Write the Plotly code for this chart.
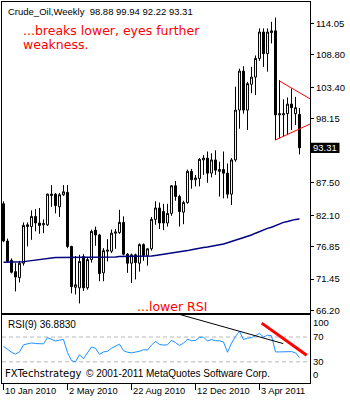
import pandas as pd
import plotly.graph_objects as go

# ---------------- data ----------------
weeks = pd.date_range("2010-01-10", periods=75, freq="7D")

opens = [84.0, 77.8, 74.6, 72.7, 71.7, 74.1, 80.2, 80.2, 81.9, 80.8,
         80.5, 80.5, 85.6, 85.6, 83.5, 85.5, 85.9, 76.9, 70.1, 70.0,
         75.2, 70.0, 74.7, 79.6, 78.8, 72.5, 76.1, 76.1, 79.1, 79.2,
         80.9, 75.6, 74.1, 75.5, 74.1, 77.2, 75.4, 76.5, 81.4, 83.3,
         82.7, 80.8, 82.4, 87.0, 85.2, 82.6, 84.2, 89.4, 88.0, 88.2,
         91.3, 91.6, 89.1, 91.3, 89.4, 89.7, 89.1, 85.6, 91.3, 99.6,
         106.1, 99.6, 103.9, 105.1, 108.2, 112.6, 109.0, 112.5, 112.8, 98.8,
         98.8, 99.0, 100.6, 99.0, 98.88]
highs = [84.4, 78.2, 74.9, 74.1, 74.5, 80.9, 80.9, 82.9, 83.1, 83.3,
         81.4, 85.7, 87.1, 85.8, 85.8, 87.1, 87.1, 77.0, 75.3, 75.5,
         75.6, 75.0, 79.7, 80.2, 79.0, 76.6, 78.1, 79.7, 79.8, 83.0,
         81.9, 75.8, 75.7, 75.7, 77.4, 77.4, 76.6, 81.8, 84.4, 84.2,
         84.0, 84.0, 87.1, 87.8, 85.5, 84.5, 89.7, 89.8, 88.8, 91.6,
         92.1, 92.7, 92.4, 92.9, 91.0, 92.7, 90.7, 91.6, 103.5, 106.5,
         106.9, 104.3, 106.8, 108.7, 113.2, 113.2, 113.2, 114.3, 115.0, 104.6,
         101.4, 101.7, 103.2, 101.8, 99.94]
lows = [77.6, 74.2, 72.4, 69.4, 70.9, 73.7, 76.9, 78.0, 79.4, 79.0,
        79.1, 80.3, 83.5, 82.4, 81.8, 85.3, 76.6, 69.1, 68.9, 67.4,
        69.5, 69.7, 74.2, 77.0, 71.1, 71.1, 74.4, 75.8, 76.5, 79.0,
        75.4, 72.5, 70.8, 71.4, 72.7, 74.5, 73.7, 76.2, 80.5, 79.8,
        79.6, 80.2, 82.0, 84.5, 80.2, 80.6, 84.0, 86.5, 86.9, 86.9,
        88.8, 87.5, 88.4, 88.8, 85.2, 84.9, 84.9, 83.8, 91.0, 96.5,
        99.0, 96.3, 102.4, 102.1, 107.8, 106.8, 106.0, 110.7, 94.6, 94.9,
        95.2, 95.5, 96.3, 97.1, 92.22]
closes = [77.8, 74.4, 72.6, 71.8, 74.1, 80.4, 80.5, 81.9, 80.8, 80.4,
          80.7, 85.6, 85.4, 83.7, 85.5, 86.0, 76.9, 70.2, 70.5, 74.4,
          70.0, 74.7, 79.4, 78.8, 72.4, 76.2, 76.3, 79.1, 79.3, 80.9,
          75.6, 74.1, 75.5, 74.2, 77.2, 75.4, 76.5, 81.4, 83.3, 80.8,
          80.8, 82.4, 87.0, 85.2, 82.7, 84.2, 89.4, 88.0, 88.3, 91.4,
          91.6, 89.1, 91.3, 89.6, 89.7, 89.1, 85.6, 91.3, 99.6, 106.1,
          99.6, 104.0, 105.1, 108.2, 112.6, 109.0, 112.6, 112.8, 98.8, 99.0,
          99.0, 100.6, 100.0, 100.0, 93.31]
ma = [74.25, 74.25, 74.27, 74.3, 74.3, 74.35, 74.45, 74.55, 74.6, 74.7,
      74.8, 74.9, 75.0, 75.05, 75.05, 75.05, 75.05, 75.05, 75.05, 75.05,
      75.05, 75.05, 75.05, 75.05, 75.05, 75.1, 75.1, 75.15, 75.15, 75.2,
      75.2, 75.2, 75.2, 75.2, 75.2, 75.2, 75.25, 75.3, 75.4, 75.5,
      75.6, 75.7, 75.8, 75.85, 75.9, 76.0, 76.2, 76.35, 76.5, 76.6,
      76.7, 76.8, 76.9, 77.0, 77.1, 77.3, 77.5, 77.7, 77.9, 78.1,
      78.3, 78.6, 78.8, 79.1, 79.4, 79.7, 79.9, 80.1, 80.4, 80.7,
      80.9, 81.05, 81.25, 81.4, 81.45]
rsi = [55, 50, 45.5, 42.5, 46, 57.5, 59, 60.5, 59.5, 59.5,
       59, 69, 66, 63.5, 65, 66, 45, 32, 30, 41.5,
       35, 44, 54, 52, 42, 46, 47, 52, 55, 58.5,
       48, 45.5, 44.5, 45.5, 47, 49.5, 49, 57, 63, 58,
       57, 57.5, 64.5, 61, 56.5, 60, 66.5, 64, 64.5, 69.5,
       70, 63.5, 66, 64, 64, 62, 45.5, 60, 71, 79,
       66, 68, 69, 72, 76, 70, 73, 72, 46, 46,
       46.5, 47, 46.5, 44.5, 36.88]

price_ticks = [114.05, 108.80, 103.40, 98.15, 87.50, 82.10, 76.85, 71.45, 66.20]
date_ticks = ["2010-01-10", "2010-05-02", "2010-08-22", "2010-12-12", "2011-04-03"]
date_labels = ["10 Jan 2010", "2 May 2010", "22 Aug 2010", "12 Dec 2010", "3 Apr 2011"]
rsi_levels = [70, 30]
rsi_tick_text = ["100", "70", "30", "0"]
last_price = 93.31
rsi_last = 36.8830
header = "Crude_Oil,Weekly\u00a0\u00a098.88 99.94 92.22 93.31"

# hand-drawn lines: (week offset from first bar, value)
upper_tri = [(68.95, 104.47), (76.625, 101.47)]
lower_tri = [(67.95, 94.62), (76.625, 97.27)]
rsi_black = [(42.05, 110.0), (69.95, 59.4)]
rsi_red = [(64.55, 92.4), (75.8, 40.7)]

# ---------------- layout helpers ----------------
W, H = 350, 400
ML, MR, MT, MB = 2, 40, 2, 17
PW, PH = W - ML - MR, H - MT - MB


def wk(b):
    return weeks[0] + pd.Timedelta(days=7 * b)


def py(pix):
    return (H - MB - pix) / PH


def px(pix):
    return (pix - ML) / PW


FONT = "Liberation Sans"

fig = go.Figure()
fig.add_trace(go.Candlestick(
    x=weeks, open=opens, high=highs, low=lows, close=closes,
    increasing=dict(line=dict(color="black", width=1), fillcolor="white"),
    decreasing=dict(line=dict(color="black", width=1), fillcolor="black"),
    whiskerwidth=0, xaxis="x", yaxis="y", showlegend=False,
))
fig.add_trace(go.Scatter(x=weeks, y=ma, mode="lines",
                         line=dict(color="#000080", width=1.5),
                         xaxis="x", yaxis="y", showlegend=False))
fig.add_trace(go.Scatter(x=weeks, y=rsi, mode="lines",
                         line=dict(color="#1E90FF", width=1),
                         xaxis="x2", yaxis="y2", showlegend=False))

xr = [wk(-0.375), wk(76.625)]
axis_common = dict(showline=True, mirror=True, linecolor="black", linewidth=1,
                   showgrid=False, zeroline=False)

shapes = []
for lvl in rsi_levels:
    shapes.append(dict(type="line", xref="x2 domain", yref="y2", x0=0, x1=1,
                       y0=lvl, y1=lvl, line=dict(color="#B8B8B8", width=1, dash="4px,3px"),
                       layer="below"))
for seg, ax, color, width in [(upper_tri, ("x", "y"), "red", 1),
                              (lower_tri, ("x", "y"), "red", 1),
                              (rsi_black, ("x2", "y2"), "black", 1),
                              (rsi_red, ("x2", "y2"), "red", 3)]:
    (b0, v0), (b1, v1) = seg
    shapes.append(dict(type="line", xref=ax[0], yref=ax[1], x0=wk(b0), y0=v0,
                       x1=wk(b1), y1=v1, line=dict(color=color, width=width)))
# current price box
shapes.append(dict(type="rect", xref="paper", yref="y", x0=px(311), x1=px(339.5),
                   y0=last_price - 0.85, y1=last_price + 0.85,
                   fillcolor="black", line=dict(width=0)))

ann = []
ann.append(dict(text=header, x=px(6), y=py(11.5), xref="paper", yref="paper",
                xanchor="left", yanchor="middle", showarrow=False,
                font=dict(family=FONT, size=9.5, color="black")))
ann.append(dict(text="...breaks lower, eyes further", x=px(20.5), y=py(30.7),
                xref="paper", yref="paper", xanchor="left", yanchor="middle",
                showarrow=False, font=dict(family="DejaVu Sans", size=12.5, color="red")))
ann.append(dict(text="weakness.", x=px(20.5), y=py(45),
                xref="paper", yref="paper", xanchor="left", yanchor="middle",
                showarrow=False, font=dict(family="DejaVu Sans", size=12.5, color="red")))
ann.append(dict(text="...lower RSI", x=px(135), y=py(306.4),
                xref="paper", yref="paper", xanchor="left", yanchor="middle",
                showarrow=False, font=dict(family="DejaVu Sans", size=12.5, color="red")))
ann.append(dict(text=f"RSI(9) {rsi_last:.4f}", x=px(5.5), y=py(324.8),
                xref="paper", yref="paper", xanchor="left", yanchor="middle",
                showarrow=False, font=dict(family=FONT, size=10, color="black")))
ann.append(dict(text="FXTechstrategy", x=px(3), y=py(373.9),
                xref="paper", yref="paper", xanchor="left", yanchor="middle",
                showarrow=False, font=dict(family="DejaVu Sans", size=10, color="black")))
ann.append(dict(text="\u00a9 2001-2011 MetaQuotes Software Corp.", x=px(84), y=py(373.8),
                xref="paper", yref="paper", xanchor="left", yanchor="middle",
                showarrow=False, font=dict(family=FONT, size=10, color="black")))
for d, lab in zip(date_ticks, date_labels):
    ann.append(dict(text=lab, x=d, y=py(390.8), xref="x2", yref="paper",
                    xanchor="left", yanchor="middle", showarrow=False, xshift=-1,
                    font=dict(family=FONT, size=9.3, color="black")))
ann.append(dict(text=f"{last_price:.2f}", x=px(325), y=last_price, xref="paper", yref="y",
                xanchor="center", yanchor="middle", showarrow=False,
                font=dict(family=FONT, size=9.5, color="white")))

fig.update_layout(
    width=W, height=H, margin=dict(l=ML, r=MR, t=MT, b=MB),
    paper_bgcolor="white", plot_bgcolor="white",
    font=dict(family=FONT, size=9.5, color="black"),
    showlegend=False,
    xaxis=dict(domain=[0, 1], anchor="y", type="date", range=xr,
               showticklabels=False, ticks="", rangeslider=dict(visible=False),
               **axis_common),
    yaxis=dict(domain=[py(313), 1], anchor="x", side="right",
               range=[65.81, 117.60], tickmode="array", tickvals=price_ticks,
               tickformat=".2f", ticks="outside", ticklen=3, tickcolor="black",
               tickfont=dict(family=FONT, size=9.5), **axis_common),
    xaxis2=dict(domain=[0, 1], anchor="y2", type="date", range=xr,
                tickmode="array", tickvals=date_ticks, showticklabels=False,
                ticks="outside", ticklen=6, tickcolor="black",
                rangeslider=dict(visible=False), **axis_common),
    yaxis2=dict(domain=[0, py(314.5)], anchor="x2", side="right",
                range=[-4.1, 106.3], tickmode="array", tickvals=[93, 70, 30, 8.7],
                ticktext=rsi_tick_text, ticks="", tickfont=dict(family=FONT, size=9.5),
                **axis_common),
    shapes=shapes, annotations=ann,
)

fig.write_html("out.html")
